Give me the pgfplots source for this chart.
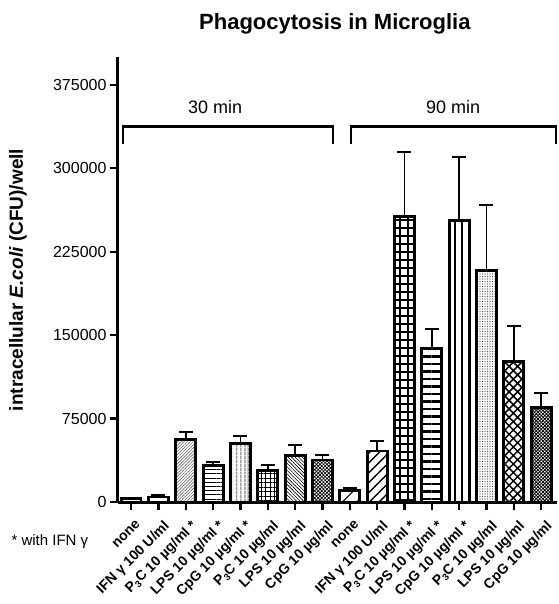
\documentclass[border=0pt]{standalone}
\usepackage{fontspec}
\setmainfont{Liberation Sans}
\usepackage{pgfplots}
\pgfplotsset{compat=1.18}
\usetikzlibrary{patterns.meta}

\newcommand{\sub}[1]{\raisebox{-2.5pt}{\fontsize{9.5}{10}\selectfont #1}}
\newcommand{\pc}{P\sub{3}C}

\pgfplotsset{
  mybar/.style={ybar, bar width=0.73, bar shift=0pt, draw=black, line width=2.8pt,
    error bars/y dir=plus, error bars/y explicit,
    error bars/error bar style={line width=1.8pt, black},
    error bars/error mark options={rotate=90, mark size=7pt, line width=1.8pt, black}},
}

\begin{document}
\begin{tikzpicture}
\useasboundingbox (-118pt,-102pt) rectangle (440pt,502pt);
\begin{axis}[
  at={(0,0)}, anchor=south west,
  width=439pt, height=445pt, scale only axis,
  xmin=-0.48, xmax=15.58, ymin=0, ymax=400000,
  axis lines=left,
  axis line style={-, line width=3pt},
  tick align=outside, major tick length=8pt,
  tick style={line width=2.2pt, black},
  ytick={0,75000,150000,225000,300000,375000},
  yticklabels={0,75000,150000,225000,300000,375000},
  scaled y ticks=false,
  yticklabel style={font=\fontsize{16}{18}\selectfont},
  xtick={0,...,15},
  xticklabels={none, IFN γ 100 U/ml, \pc{} 10 µg/ml *, LPS 10 µg/ml *, CpG 10 µg/ml *, \pc{} 10 µg/ml, LPS 10 µg/ml, CpG 10 µg/ml,
               none, IFN γ 100 U/ml, \pc{} 10 µg/ml *, LPS 10 µg/ml *, CpG 10 µg/ml *, \pc{} 10 µg/ml, LPS 10 µg/ml, CpG 10 µg/ml},
  xticklabel style={rotate=45, anchor=north east, font=\bfseries\fontsize{14}{15}\selectfont, inner sep=0.5pt, xshift=-3pt, yshift=-9pt},
  clip=false,
]
% 30 min
\addplot[mybar, pattern={Dots[distance=3pt, radius=0.6pt]}] coordinates {(0,3000) +- (0,800)};
\addplot[mybar, fill=white] coordinates {(1,4500) +- (0,1500)};
\addplot[mybar, pattern={Lines[angle=45, distance=2.2pt, line width=0.5pt]}, pattern color=black!70] coordinates {(2,56300) +- (0,6800)};
\addplot[mybar, pattern={Lines[angle=0, distance=4.2pt, line width=0.9pt]}] coordinates {(3,33000) +- (0,3000)};
\addplot[mybar, pattern={Lines[angle=90, distance=4pt, line width=0.9pt]}] coordinates {(4,52700) +- (0,6800)};
\addplot[mybar, pattern={Hatch[angle=0, distance=4.5pt, line width=0.8pt]}] coordinates {(5,28100) +- (0,5100)};
\addplot[mybar, pattern={Lines[angle=-45, distance=2.5pt, line width=0.6pt]}] coordinates {(6,41600) +- (0,9900)};
\addplot[mybar, pattern={Hatch[angle=45, distance=2.5pt, line width=0.7pt]}] coordinates {(7,37700) +- (0,4500)};
% 90 min
\addplot[mybar, pattern={Lines[angle=45, distance=10pt, line width=1pt]}] coordinates {(8,10200) +- (0,2400)};
\addplot[mybar, pattern={Lines[angle=45, distance=7pt, line width=1.4pt]}] coordinates {(9,45800) +- (0,9300)};
\addplot[mybar, pattern={Hatch[angle=0, distance=8pt, line width=1.6pt]}] coordinates {(10,256300) +- (0,58300)};
\addplot[mybar, pattern={Lines[angle=0, distance=7.5pt, line width=2.2pt]}] coordinates {(11,138000) +- (0,17700)};
\addplot[mybar, pattern={Lines[angle=90, distance=7pt, line width=2.2pt]}] coordinates {(12,253300) +- (0,56900)};
\addplot[mybar, pattern={Dots[distance=2.5pt, radius=0.65pt]}, pattern color=black!70] coordinates {(13,208400) +- (0,58400)};
\addplot[mybar, pattern={Hatch[angle=45, distance=6pt, line width=1.5pt]}] coordinates {(14,126600) +- (0,31800)};
\addplot[mybar, pattern={Hatch[angle=45, distance=2.4pt, line width=0.8pt]}] coordinates {(15,85000) +- (0,13200)};

% group brackets
\draw[line width=2.4pt] (axis cs:-0.29,321600) -- (axis cs:-0.29,337700) -- (axis cs:7.39,337700) -- (axis cs:7.39,321600);
\draw[line width=2.4pt] (axis cs:8.05,321600) -- (axis cs:8.05,337700) -- (axis cs:15.55,337700) -- (axis cs:15.55,321600);
\node[font=\fontsize{18}{20}\selectfont] at (axis cs:3.07,354800) {30 min};
\node[font=\fontsize{18}{20}\selectfont] at (axis cs:11.78,354800) {90 min};

\node[font=\bfseries\fontsize{22}{24}\selectfont, anchor=base] at (axis description cs:0.494,1.061) {Phagocytosis in Microglia};
\node[rotate=90, font=\bfseries\fontsize{19}{22}\selectfont] at (axis description cs:-0.228,0.499) {intracellular \textit{E.coli} (CFU)/well};
\node[anchor=west, font=\fontsize{15}{17}\selectfont] at (axis description cs:-0.2506,-0.0899) {* with IFN γ};
\end{axis}
\end{tikzpicture}
\end{document}
